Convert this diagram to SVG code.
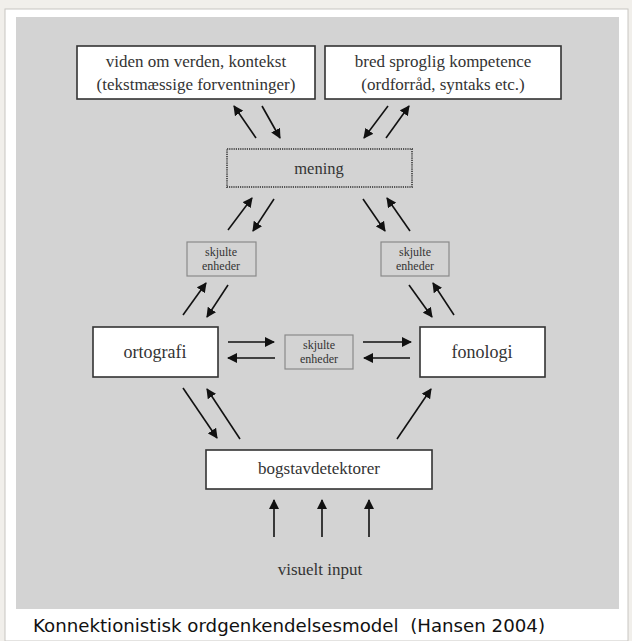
<svg xmlns="http://www.w3.org/2000/svg" width="632" height="641" viewBox="0 0 632 641">
<defs>
<marker id="ah" viewBox="0 0 10 10" refX="9" refY="5" markerWidth="10" markerHeight="10" markerUnits="userSpaceOnUse" orient="auto">
<path d="M0,0 L10,5 L0,10 Z" fill="#111"/>
</marker>
<style>
.box{fill:#fff;stroke:#333;stroke-width:1.6}
.hid{fill:#d3d3d3;stroke:#8a8a8a;stroke-width:1.2}
.t{font-family:'Liberation Serif','Times New Roman','DejaVu Serif',serif;fill:#333;text-anchor:middle}
.s{font-family:'Liberation Serif','Times New Roman','DejaVu Serif',serif;fill:#333;text-anchor:middle;font-size:12px}
.a{stroke:#111;stroke-width:1.6;fill:none;marker-end:url(#ah)}
</style>
</defs>
<rect width="632" height="641" fill="#f1efeb"/>
<rect x="5" y="9" width="623" height="632" fill="#fff" stroke="#c8c6c2" stroke-width="1"/>
<rect x="16" y="17" width="603" height="592" fill="#d3d3d3"/>

<g id="viden">
<rect class="box" x="77" y="46" width="238" height="53"/>
<text class="t" x="196" y="67" font-size="17">viden om verden, kontekst</text>
<text class="t" x="196" y="90" font-size="17">(tekstmæssige forventninger)</text>
</g>
<g id="bred">
<rect class="box" x="325" y="46" width="236" height="53"/>
<text class="t" x="443" y="67" font-size="17">bred sproglig kompetence</text>
<text class="t" x="443" y="90" font-size="17">(ordforråd, syntaks etc.)</text>
</g>
<g id="mening">
<rect x="227" y="149" width="185" height="38" fill="none" stroke="#555" stroke-width="2" stroke-dasharray="1.2 1"/>
<text class="t" x="319" y="174" font-size="16.5">mening</text>
</g>
<g id="skjulte-venstre">
<rect class="hid" x="187" y="242" width="69" height="34"/>
<text class="s" x="221" y="256">skjulte</text>
<text class="s" x="221" y="270">enheder</text>
</g>
<g id="skjulte-hoejre">
<rect class="hid" x="381" y="242" width="68" height="34"/>
<text class="s" x="415" y="256">skjulte</text>
<text class="s" x="415" y="270">enheder</text>
</g>
<g id="ortografi">
<rect class="box" x="93" y="327" width="125" height="50"/>
<text class="t" x="155" y="358" font-size="18">ortografi</text>
</g>
<g id="skjulte-midt">
<rect class="hid" x="285" y="335" width="68" height="34"/>
<text class="s" x="319" y="349">skjulte</text>
<text class="s" x="319" y="363">enheder</text>
</g>
<g id="fonologi">
<rect class="box" x="420" y="327" width="125" height="50"/>
<text class="t" x="482" y="358" font-size="18">fonologi</text>
</g>
<g id="bogstavdetektorer">
<rect class="box" x="206" y="450" width="226" height="39"/>
<text class="t" x="319" y="474" font-size="17">bogstavdetektorer</text>
</g>
<g id="visuelt-input">
<text class="t" x="320" y="575" font-size="17">visuelt input</text>
</g>

<g id="connectors">
<line class="a" x1="256" y1="138" x2="234" y2="106"/>
<line class="a" x1="262" y1="106" x2="280" y2="138"/>
<line class="a" x1="388" y1="106" x2="364" y2="138"/>
<line class="a" x1="386" y1="138" x2="409" y2="106"/>
<line class="a" x1="228" y1="230" x2="252" y2="198"/>
<line class="a" x1="274" y1="199" x2="253" y2="231"/>
<line class="a" x1="363" y1="199" x2="385" y2="231"/>
<line class="a" x1="410" y1="231" x2="387" y2="198"/>
<line class="a" x1="183" y1="315" x2="206" y2="283"/>
<line class="a" x1="228" y1="285" x2="207" y2="317"/>
<line class="a" x1="409" y1="285" x2="432" y2="317"/>
<line class="a" x1="454" y1="315" x2="433" y2="283"/>
<line class="a" x1="228" y1="342" x2="274" y2="342"/>
<line class="a" x1="275" y1="358" x2="228" y2="358"/>
<line class="a" x1="363" y1="342" x2="411" y2="342"/>
<line class="a" x1="410" y1="358" x2="364" y2="358"/>
<line class="a" x1="183" y1="388" x2="217" y2="438"/>
<line class="a" x1="240" y1="439" x2="207" y2="389"/>
<line class="a" x1="397" y1="439" x2="431" y2="389"/>
<line class="a" x1="274" y1="537" x2="274" y2="500"/>
<line class="a" x1="322" y1="537" x2="322" y2="500"/>
<line class="a" x1="369" y1="537" x2="369" y2="500"/>
</g>

<text x="33" y="632" font-family="'DejaVu Sans',sans-serif" font-size="17" fill="#111" xml:space="preserve" textLength="512" lengthAdjust="spacingAndGlyphs">Konnektionistisk ordgenkendelsesmodel  (Hansen 2004)</text>
</svg>
